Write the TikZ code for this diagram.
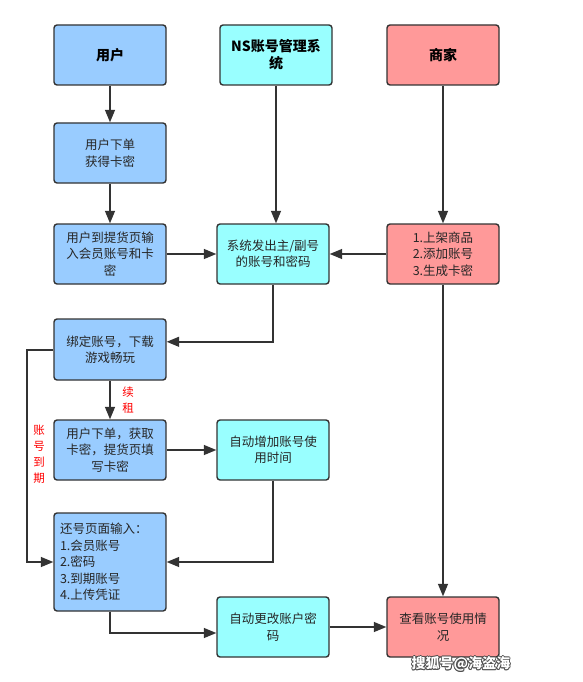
\documentclass[tikz,border=0pt]{standalone}
\usepackage{fontspec}
\setmainfont{Noto Sans CJK SC}
\usetikzlibrary{arrows.meta}
\definecolor{bluebox}{HTML}{99CCFF}
\definecolor{cyanbox}{HTML}{99FFFF}
\definecolor{redbox}{HTML}{FF9999}
\definecolor{edge}{HTML}{333333}
\begin{document}
\begin{tikzpicture}[x=1pt,y=-1pt,
  box/.style={draw=edge,line width=1.4pt,rounded corners=3pt,minimum width=112pt,minimum height=60pt,align=center,inner sep=2pt,font=\fontsize{12.5}{16.5}\selectfont,text=black!85},
  bbox/.style={box,fill=bluebox},
  cbox/.style={box,fill=cyanbox},
  rbox/.style={box,fill=redbox},
  title/.style={font=\fontsize{14}{17}\selectfont\bfseries,text=black},
  arr/.style={draw=edge,line width=1.4pt,-{Triangle[length=12.5pt,width=10pt]}},
  redlab/.style={text=red,font=\fontsize{11.5}{16}\selectfont,align=center,inner sep=0pt}
]
\useasboundingbox (0,0) rectangle (582,682);
\fill[white] (0,0) rectangle (582,682);
% titles
\node[bbox,title] (user) at (110,55) {用户};
\node[cbox,title] (ns) at (276,55) {NS账号管理系\\统};
\node[rbox,title] (shop) at (443,55) {商家};
% row 2
\node[bbox] (order1) at (110,153) {用户下单\\获得卡密};
% row 3
\node[bbox] (input) at (110,254) {用户到提货页输\\入会员账号和卡\\密};
\node[cbox] (issue) at (273,254) {系统发出主/副号\\的账号和密码};
\node[rbox] (list) at (443,254) {1.上架商品\\2.添加账号\\3.生成卡密};
% row 4
\node[bbox,minimum height=61pt] (bind) at (110,349.5) {绑定账号，下载\\游戏畅玩};
% row 5
\node[bbox] (order2) at (110,450) {用户下单，获取\\卡密，提货页填\\写卡密};
\node[cbox] (addtime) at (273,450) {自动增加账号使\\用时间};
% row 6
\node[bbox,minimum height=98pt,align=left,text width=100pt] (ret) at (110,562) {还号页面输入：\\1.会员账号\\2.密码\\3.到期账号\\4.上传凭证};
% row 7
\node[cbox] (chpw) at (273,627) {自动更改账户密\\码};
\node[rbox] (view) at (443,627) {查看账号使用情\\况};
% connectors
\draw[arr] (user) -- (order1);
\draw[arr] (order1) -- (input);
\draw[arr] (ns.south) -- (ns.south |- issue.north);
\draw[arr] (shop) -- (list);
\draw[arr] (input) -- (issue);
\draw[arr] (list) -- (issue);
\draw[arr] (issue.south) |- ([yshift=7.7pt]bind.east);
\coordinate (loopA) at (27,350);
\coordinate (loopB) at (27,562);
\draw[arr] (bind.west |- loopA) -- (loopA) -- (loopB) -- (ret.west);
\draw[arr] (bind) -- (order2);
\draw[arr] (order2) -- (addtime);
\draw[arr] (addtime.south) |- (ret.east);
\draw[arr] (ret.south) |- ([yshift=-6pt]chpw.west);
\draw[arr] (chpw) -- (view);
\draw[arr] (list) -- (view);
% labels
\node[redlab] (renew) at (128,400) {续\\租};
\node[redlab] (expire) at (39,454.5) {账\\号\\到\\期};
% watermark (white text with dark outline)
\foreach \dx/\dy in {-0.8/0,0.8/0,0/-0.8,0/0.8,-0.6/-0.6,0.6/0.6,0.6/-0.6,-0.6/0.6}{
  \node[font=\fontsize{14}{16}\selectfont\bfseries,text=black!70,inner sep=0pt] at (461+\dx,664+\dy) {搜狐号@海盗海};
}
\node[font=\fontsize{14}{16}\selectfont\bfseries,text=white,inner sep=0pt] (wm) at (461,664) {搜狐号@海盗海};
\end{tikzpicture}
\end{document}
